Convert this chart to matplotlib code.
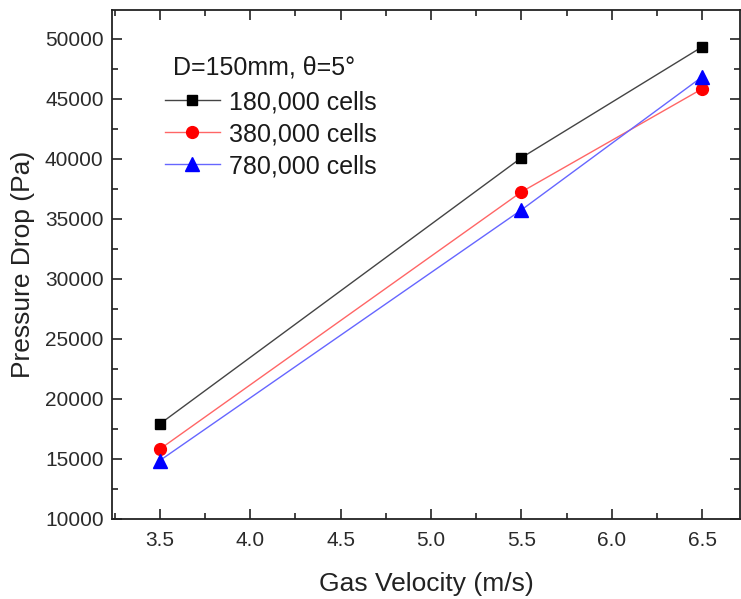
import matplotlib
matplotlib.use("Agg")
import matplotlib.pyplot as plt
from matplotlib.ticker import MultipleLocator, FormatStrFormatter

plt.rcParams['font.family'] = ['Liberation Sans', 'DejaVu Sans']

velocity = [3.5, 5.5, 6.5]
cells_180k = [17900, 40100, 49350]
cells_380k = [15800, 37250, 45850]
cells_780k = [14850, 35750, 46850]
series_labels = ["180,000 cells", "380,000 cells", "780,000 cells"]
legend_title = "D=150mm, θ=5°"

fig = plt.figure(figsize=(7.41, 5.99), dpi=100)
ax = fig.add_axes([0.151, 0.134, 0.848, 0.849])

ax.plot(velocity, cells_180k, color='#444444', lw=1.0, marker='s', ms=7.5,
        mfc='black', mec='black', label=series_labels[0])
ax.plot(velocity, cells_380k, color='#ff6666', lw=1.0, marker='o', ms=8.5,
        mfc='red', mec='red', label=series_labels[1])
ax.plot(velocity, cells_780k, color='#6666ff', lw=1.0, marker='^', ms=10,
        mfc='blue', mec='blue', label=series_labels[2])

ax.set_xlim(3.235, 6.71)
ax.set_ylim(10000, 52400)
ax.xaxis.set_major_locator(MultipleLocator(0.5))
ax.xaxis.set_minor_locator(MultipleLocator(0.25))
ax.yaxis.set_major_locator(MultipleLocator(5000))
ax.yaxis.set_minor_locator(MultipleLocator(2500))
ax.xaxis.set_major_formatter(FormatStrFormatter('%.1f'))

ax.tick_params(which='both', direction='in', top=True, right=True,
               width=1.2, colors='#222222', labelcolor='#2a2a2a')
ax.tick_params(which='major', length=7, labelsize=15)
ax.tick_params(axis='x', which='major', pad=9)
ax.tick_params(axis='y', which='major', pad=6)
ax.tick_params(which='minor', length=4)
for s in ax.spines.values():
    s.set_linewidth(1.3)
    s.set_color('#222222')

ax.set_xlabel("Gas Velocity (m/s)", fontsize=19, color='#222222', labelpad=16)
ax.set_ylabel("Pressure Drop (Pa)", fontsize=19, color='#222222', labelpad=7)

leg = ax.legend(loc='upper left', bbox_to_anchor=(0.0844, 0.843),
                frameon=False, fontsize=18,
                handlelength=2.2, handletextpad=0.35, labelspacing=0.32,
                borderaxespad=0, borderpad=0)
for t in leg.get_texts():
    t.set_color('#1a1a1a')

ax.text(0.097, 0.888, legend_title, transform=ax.transAxes, fontsize=18,
        color='#1a1a1a', ha='left', va='center')

fig.savefig("out.png", dpi=100)
